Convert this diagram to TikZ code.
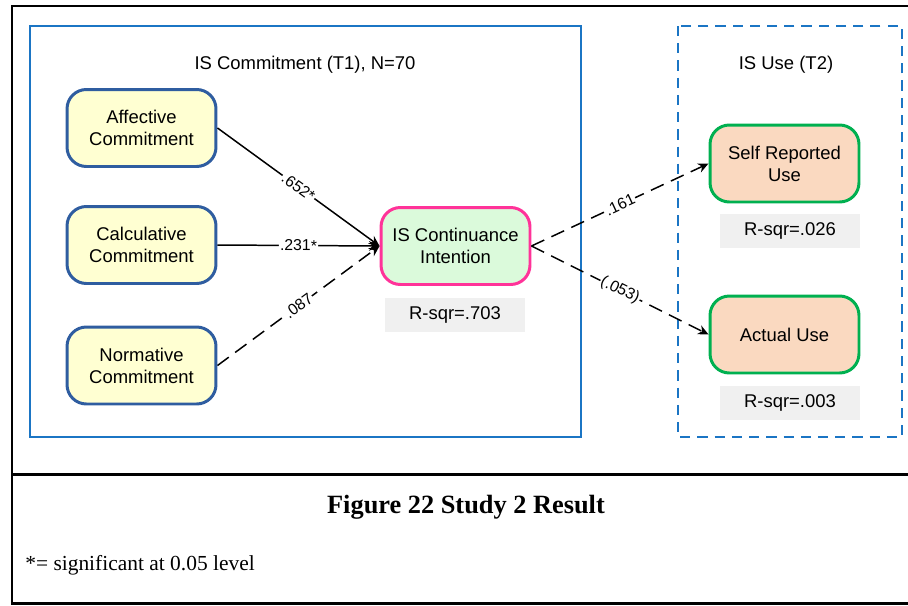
\documentclass[tikz,border=0pt]{standalone}
\usepackage{fontspec}
\setmainfont{Liberation Sans}
\newfontfamily\capfont{Liberation Serif}
\usetikzlibrary{arrows.meta}
\definecolor{frameblue}{HTML}{1B75C4}
\definecolor{nodeblue}{HTML}{2F5DA0}
\definecolor{paleyellow}{HTML}{FFFFD2}
\definecolor{hotpink}{HTML}{FF3399}
\definecolor{palegreen}{HTML}{DBFADB}
\definecolor{usegreen}{HTML}{00B050}
\definecolor{peach}{HTML}{FAD9C0}
\definecolor{rgray}{HTML}{F0F0F0}
\begin{document}
\begin{tikzpicture}[x=0.02cm,y=-0.02cm,
  txt/.style={font=\fontsize{10.5}{12.5}\selectfont, align=center},
  construct/.style={txt, rounded corners=11pt, line width=1.7pt,
    minimum width=2.98cm, minimum height=1.54cm, inner sep=0pt},
  commit/.style={construct, draw=nodeblue, fill=paleyellow},
  intent/.style={construct, draw=hotpink, fill=palegreen},
  usage/.style={construct, draw=usegreen, fill=peach},
  rsq/.style={txt, fill=rgray, minimum width=2.8cm, minimum height=0.68cm, inner sep=0pt},
  path/.style={line width=0.85pt, -{Stealth[length=6pt,width=5.5pt]}},
  dashpath/.style={path, dash pattern=on 8pt off 4.5pt},
  wlabel/.style={sloped, fill=white, inner sep=0.6pt, font=\fontsize{9}{10}\selectfont}
]
\useasboundingbox (0,0) rectangle (908,605);

% outer frame and caption divider
\draw[line width=1.7pt] (909,6) -- (12,6) -- (12,603) -- (909,603);
\draw[line width=1.7pt] (12,474) -- (909,474);

% group frames
\draw[frameblue, line width=1pt] (30,26) rectangle (581,437);
\draw[frameblue, line width=1.1pt, dash pattern=on 5.8pt off 4pt] (678,26) rectangle (902,437);
\node[txt] (t1) at (305,65) {IS Commitment (T1), N=70};
\node[txt] (t2) at (786,65) {IS Use (T2)};

% constructs
\node[commit] (aff) at (141.5,128) {Affective\\Commitment};
\node[commit] (cal) at (141.5,245) {Calculative\\Commitment};
\node[commit] (nor) at (141.5,365.5) {Normative\\Commitment};
\node[intent] (ic) at (455.5,246) {IS Continuance\\Intention};
\node[usage] (sru) at (784.5,163.5) {Self Reported\\Use};
\node[usage] (au) at (784.5,334.5) {Actual Use};

% explained variance
\node[rsq] (r1) at (455,315) {R-sqr=.703};
\node[rsq] (r2) at (790,231) {R-sqr=.026};
\node[rsq] (r3) at (790,402.5) {R-sqr=.003};

% paths
\draw[path] (aff.east) -- node[wlabel] {.652*} (ic.west);
\draw[path] (cal.east) -- node[wlabel] {.231*} (ic.west);
\draw[dashpath] (nor.east) -- node[wlabel] {.087} (ic.west);
\draw[dashpath] (ic.east) -- node[wlabel] {.161} (sru.west);
\draw[dashpath] (ic.east) -- node[wlabel] {(.053)} (au.west);

% caption and note
\node[font=\capfont\bfseries\fontsize{15}{18}\selectfont] (cap) at (466,507) {Figure 22 Study 2 Result};
\node[font=\capfont\fontsize{12.2}{14}\selectfont, anchor=west, inner sep=0pt] (note) at (25,565) {*= significant at 0.05 level};
\end{tikzpicture}
\end{document}
